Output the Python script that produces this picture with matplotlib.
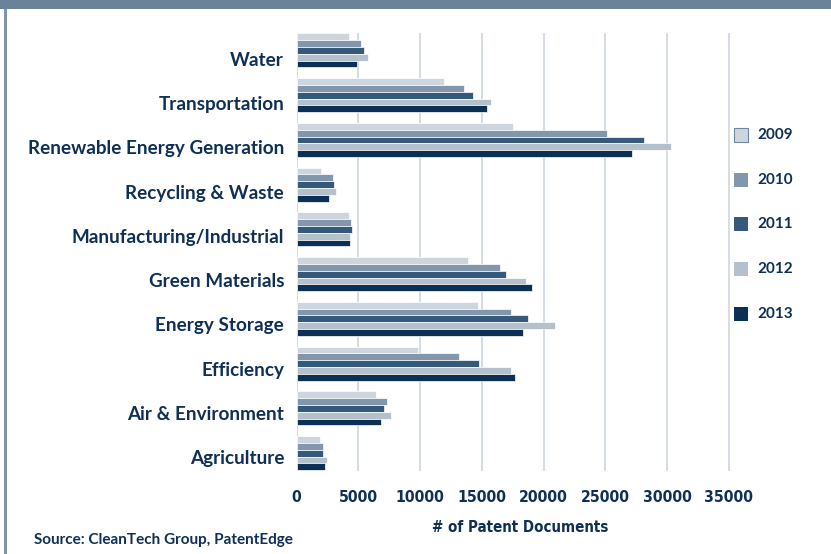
import matplotlib
matplotlib.use("Agg")
import matplotlib.pyplot as plt
from matplotlib.patches import Rectangle
import numpy as np

# ---- data -------------------------------------------------------------
categories = [
    "Water",
    "Transportation",
    "Renewable Energy Generation",
    "Recycling & Waste",
    "Manufacturing/Industrial",
    "Green Materials",
    "Energy Storage",
    "Efficiency",
    "Air & Environment",
    "Agriculture",
]
years = ["2009", "2010", "2011", "2012", "2013"]

v2009 = [4250, 11950, 17500, 1980, 4250, 13850, 14650, 9800, 6400, 1850]
v2010 = [5250, 13550, 25150, 2970, 4430, 16450, 17350, 13150, 7300, 2120]
v2011 = [5450, 14300, 28150, 3050, 4450, 16950, 18750, 14800, 7100, 2100]
v2012 = [5750, 15750, 30350, 3220, 4350, 18550, 20950, 17350, 7600, 2450]
v2013 = [4900, 15450, 27150, 2620, 4350, 19050, 18300, 17700, 6850, 2280]
series = [v2009, v2010, v2011, v2012, v2013]

xticks = [0, 5000, 10000, 15000, 20000, 25000, 30000, 35000]

# ---- style ------------------------------------------------------------
colors = ["#cdd6de", "#8297ac", "#34597b", "#b4c1cc", "#0c2f56"]
text_color = "#0e2f56"
grid_color = "#d2d9e0"
cat_font = ["Lato", "DejaVu Sans"]
num_font = ["DejaVu Sans"]

W, H = 831, 554
fig = plt.figure(figsize=(W / 100, H / 100), dpi=100)

# frame decoration: top band and left rule
fig.add_artist(Rectangle((0, 1 - 9 / H), 1, 9 / H, transform=fig.transFigure,
                         facecolor="#6a8399", edgecolor="none"))
fig.add_artist(Rectangle((4 / W, 0), 2.6 / W, 1 - 9 / H, transform=fig.transFigure,
                         facecolor="#7e94a9", edgecolor="none"))

ax_left, ax_right = 296.7, 732.4
ax_top, ax_bottom = 33, 471
ax = fig.add_axes([ax_left / W, 1 - ax_bottom / H,
                   (ax_right - ax_left) / W, (ax_bottom - ax_top) / H])

n = len(categories)
centers = np.arange(n)[::-1].astype(float)   # first category at top
bar_h = 0.152
for k, vals in enumerate(series):
    ax.barh(centers + (2 - k) * bar_h, vals, height=bar_h, color=colors[k],
            edgecolor="white", linewidth=0.5, zorder=3)

ax.set_xlim(0, 35300)
ax.set_ylim(-0.40, n - 1 + 0.39)
ax.set_xticks(xticks)
ax.set_xticklabels([str(t) for t in xticks])
ax.xaxis.grid(True, color=grid_color, linewidth=1.3, zorder=0)
ax.set_axisbelow(True)
for s in ax.spines.values():
    s.set_visible(False)
ax.tick_params(axis="both", length=0)
ax.tick_params(axis="x", pad=14)

# category labels sit slightly below each group's centre
label_pos = -0.09 + np.arange(n)[::-1] * 0.989
ax.set_yticks(label_pos)
ax.set_yticklabels(categories)
for lbl in ax.get_yticklabels():
    lbl.set_fontfamily(cat_font)
    lbl.set_fontweight("bold")
    lbl.set_fontsize(13.6)
    lbl.set_color(text_color)
ax.tick_params(axis="y", pad=9)
for lbl in ax.get_xticklabels():
    lbl.set_fontfamily(num_font)
    lbl.set_fontstretch("condensed")
    lbl.set_fontweight("bold")
    lbl.set_fontsize(11.3)
    lbl.set_color(text_color)

fig.text(520 / W, 1 - 528 / H, "# of Patent Documents", ha="center", va="center",
         fontsize=10.8, fontweight="bold", fontstretch="condensed",
         family=num_font, color=text_color)
fig.text(34 / W, 1 - 540 / H, "Source: CleanTech Group, PatentEdge", ha="left",
         va="center", fontsize=11, fontweight="bold", family=cat_font,
         color=text_color)

# legend
leg_y0, leg_step = 135, 44.7
for k, yr in enumerate(years):
    yc = leg_y0 + k * leg_step
    fig.add_artist(Rectangle((734 / W, 1 - (yc + 7) / H), 14 / W, 14 / H,
                             transform=fig.transFigure, facecolor=colors[k],
                             edgecolor="#6f879d" if k == 0 else "none",
                             linewidth=0.8))
    fig.text(757 / W, 1 - yc / H, yr, ha="left", va="center", fontsize=11,
             fontweight="bold", family=cat_font, color=text_color)

fig.savefig("out.png", dpi=100)
